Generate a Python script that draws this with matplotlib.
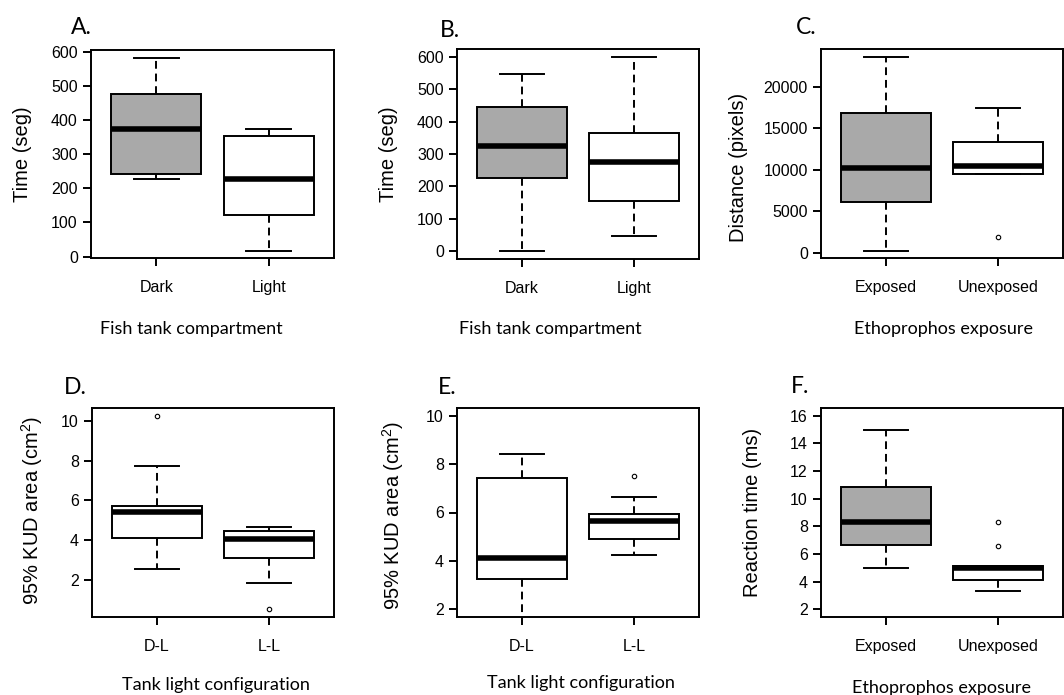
import numpy as np
import matplotlib.pyplot as plt

plt.rcParams['font.family'] = 'Liberation Sans'
plt.rcParams['mathtext.fontset'] = 'custom'
plt.rcParams['mathtext.rm'] = 'Liberation Sans'
plt.rcParams['mathtext.it'] = 'Liberation Sans'
plt.rcParams['figure.facecolor'] = 'w'

W, H = 1064, 695
GRAY = '#a9a9a9'

############# Data ############################################################
# A. time spent per compartment (s)
A_cats = ['Dark', 'Light']
A_whislo = [227, 17.5]
A_q1 = [242.5, 123]
A_med = [375, 228]
A_q3 = [477, 354.5]
A_whishi = [583, 374]
A_fliers = [[], []]

# B. time spent per compartment (s)
B_cats = ['Dark', 'Light']
B_whislo = [0, 46.5]
B_q1 = [226.5, 154]
B_med = [326, 276]
B_q3 = [444, 366]
B_whishi = [546, 600]
B_fliers = [[], []]

# C. distance (pixels)
C_cats = ['Exposed', 'Unexposed']
C_whislo = [242, 9516]
C_q1 = [6129, 9516]
C_med = [10202, 10403]
C_q3 = [16815, 13387]
C_whishi = [23629, 17419]
C_fliers = [[], [1895]]

# D. 95% KUD area
D_cats = ['D-L', 'L-L']
D_whislo = [2.55, 1.87]
D_q1 = [4.13, 3.10]
D_med = [5.40, 4.04]
D_q3 = [5.72, 4.44]
D_whishi = [7.74, 4.68]
D_fliers = [[10.25], [0.53]]

# E. 95% KUD area (lower whisker of D-L runs off the plot)
E_cats = ['D-L', 'L-L']
E_whislo = [1.5, 4.26]
E_q1 = [3.24, 4.90]
E_med = [4.11, 5.63]
E_q3 = [7.43, 5.94]
E_whishi = [8.40, 6.66]
E_fliers = [[], [7.50]]

# F. reaction time (ms)
F_cats = ['Exposed', 'Unexposed']
F_whislo = [5.02, 3.35]
F_q1 = [6.63, 4.15]
F_med = [8.32, 5.02]
F_q3 = [10.83, 5.10]
F_whishi = [14.99, 5.10]
F_fliers = [[], [6.61, 8.30]]

A_yticks = [0, 100, 200, 300, 400, 500, 600]
B_yticks = [0, 100, 200, 300, 400, 500, 600]
C_yticks = [0, 5000, 10000, 15000, 20000]
D_yticks = [2, 4, 6, 8, 10]
E_yticks = [2, 4, 6, 8, 10]
F_yticks = [2, 4, 6, 8, 10, 12, 14, 16]

######## Layout (pixels: left, top, right, bottom) ############################
panels = [
    dict(title='A.', cats=A_cats, s=(A_whislo, A_q1, A_med, A_q3, A_whishi, A_fliers),
         fills=[GRAY, 'w'], yticks=A_yticks, ylim=(-4, 605), box=(91, 50, 334, 258),
         ylabel='Time (seg)', ylab_xy=(23, 154), xlabel='Fish tank compartment',
         xlab_xy=(191, 334), tit_xy=(71, 34)),
    dict(title='B.', cats=B_cats, s=(B_whislo, B_q1, B_med, B_q3, B_whishi, B_fliers),
         fills=[GRAY, 'w'], yticks=B_yticks, ylim=(-24, 624), box=(457, 49, 699, 259),
         ylabel='Time (seg)', ylab_xy=(388, 154), xlabel='Fish tank compartment',
         xlab_xy=(550, 334), tit_xy=(440, 37)),
    dict(title='C.', cats=C_cats, s=(C_whislo, C_q1, C_med, C_q3, C_whishi, C_fliers),
         fills=[GRAY, 'w'], yticks=C_yticks, ylim=(-650, 24580), box=(821, 49, 1063, 258),
         ylabel='Distance (pixels)', ylab_xy=(738, 167), xlabel='Ethoprophos exposure',
         xlab_xy=(944, 334), tit_xy=(796, 34)),
    dict(title='D.', cats=D_cats, s=(D_whislo, D_q1, D_med, D_q3, D_whishi, D_fliers),
         fills=['w', 'w'], yticks=D_yticks, ylim=(0.14, 10.64), box=(92, 408, 334, 617),
         ylabel='95% KUD area (cm$^2$)', ylab_xy=(32, 510), xlabel='Tank light configuration',
         xlab_xy=(216, 690), tit_xy=(64, 394)),
    dict(title='E.', cats=E_cats, s=(E_whislo, E_q1, E_med, E_q3, E_whishi, E_fliers),
         fills=['w', 'w'], yticks=E_yticks, ylim=(1.68, 10.32), box=(457, 408, 699, 617),
         ylabel='95% KUD area (cm$^2$)', ylab_xy=(393, 515), xlabel='Tank light configuration',
         xlab_xy=(581, 688), tit_xy=(438, 394)),
    dict(title='F.', cats=F_cats, s=(F_whislo, F_q1, F_med, F_q3, F_whishi, F_fliers),
         fills=[GRAY, 'w'], yticks=F_yticks, ylim=(1.44, 16.56), box=(821, 408, 1063, 617),
         ylabel='Reaction time (ms)', ylab_xy=(753, 512), xlabel='Ethoprophos exposure',
         xlab_xy=(942, 693), tit_xy=(791, 393)),
]

fig = plt.figure(figsize=(W / 100, H / 100), dpi=100)


def fx(x):
    return x / W


def fy(y):
    return 1 - y / H


for p in panels:
    l, t, r, b = p['box']
    ax = fig.add_axes([fx(l), fy(b), (r - l) / W, (b - t) / H])
    whislo, q1, med, q3, whishi, fliers = p['s']
    stats = []
    for i in range(len(p['cats'])):
        stats.append(dict(label=p['cats'][i], whislo=whislo[i], q1=q1[i], med=med[i],
                          q3=q3[i], whishi=whishi[i], fliers=fliers[i]))
    bp = ax.bxp(stats, positions=[1, 2], widths=0.8, patch_artist=True,
                boxprops=dict(linewidth=1.4, edgecolor='k'),
                whiskerprops=dict(linewidth=1.4, linestyle=(0, (4, 2.5)), color='k'),
                capprops=dict(linewidth=1.4, color='k'),
                medianprops=dict(linewidth=4, color='k', solid_capstyle='butt'),
                flierprops=dict(marker='o', markersize=3.2, markerfacecolor='w',
                                markeredgecolor='k', markeredgewidth=0.8))
    for patch, c in zip(bp['boxes'], p['fills']):
        patch.set_facecolor(c)

    ax.set_xlim(0.42, 2.58)
    ax.set_ylim(*p['ylim'])
    ax.set_yticks(p['yticks'])
    ax.set_xticks([1, 2])
    ax.set_xticklabels(p['cats'])
    for sp in ax.spines.values():
        sp.set_linewidth(1.4)
    ax.tick_params(axis='both', direction='out', length=6, width=1.4, labelsize=11.5)
    ax.tick_params(axis='x', pad=10)
    ax.tick_params(axis='y', pad=3.5)

    fig.text(fx(p['tit_xy'][0]), fy(p['tit_xy'][1]), p['title'], fontsize=16.5,
             family='Lato', ha='left', va='baseline')
    fig.text(fx(p['xlab_xy'][0]), fy(p['xlab_xy'][1]), p['xlabel'], fontsize=13,
             family='Lato', ha='center', va='baseline')
    fig.text(fx(p['ylab_xy'][0]), fy(p['ylab_xy'][1]), p['ylabel'], fontsize=14.5,
             rotation=90, ha='center', va='center')

plt.savefig('out.png', dpi=100)
